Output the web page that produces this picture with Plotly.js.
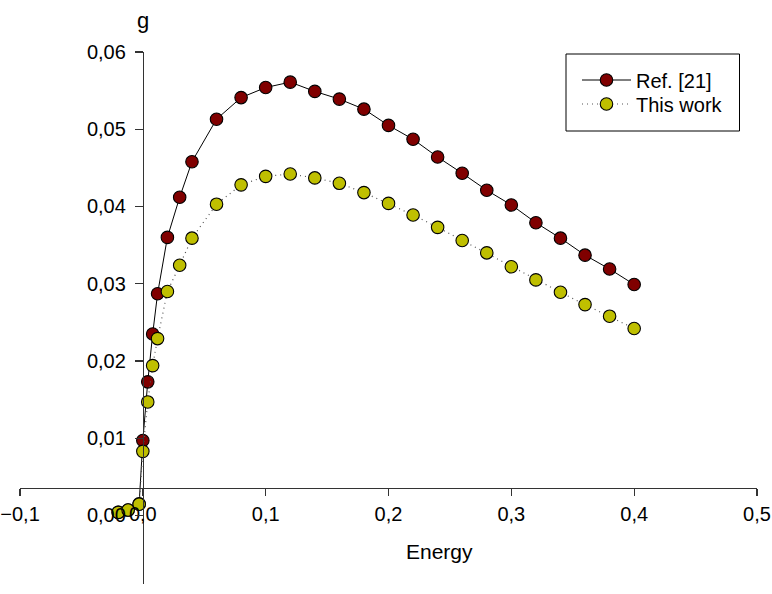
<!DOCTYPE html>
<html>
<head>
<meta charset="utf-8">
<script src="https://cdn.plot.ly/plotly-3.0.1.min.js"></script>
<style>
  html, body { margin: 0; padding: 0; background: #ffffff; }
  #chart { width: 772px; height: 594px; }
</style>
</head>
<body>
<div id="chart"></div>
<script>
// ---- Data ----
var energy = [-0.02, -0.012, -0.003, 0, 0.004, 0.008, 0.012, 0.02, 0.03, 0.04, 0.06, 0.08, 0.10, 0.12, 0.14, 0.16, 0.18, 0.20, 0.22, 0.24, 0.26, 0.28, 0.30, 0.32, 0.34, 0.36, 0.38, 0.40];
var ref21 = [0.0004, 0.0007, 0.0015, 0.0097, 0.0173, 0.0235, 0.0287, 0.0360, 0.0412, 0.0458, 0.0513, 0.0541, 0.0554, 0.0561, 0.0549, 0.0539, 0.0526, 0.0505, 0.0487, 0.0464, 0.0443, 0.0421, 0.0402, 0.0379, 0.0359, 0.0337, 0.0319, 0.0299];
var thisWork = [0.0004, 0.0007, 0.00145, 0.0083, 0.0147, 0.0194, 0.0229, 0.0290, 0.0324, 0.0359, 0.0403, 0.0428, 0.0439, 0.0442, 0.0437, 0.0430, 0.0418, 0.0404, 0.0389, 0.0373, 0.0356, 0.0340, 0.0322, 0.0305, 0.0289, 0.0273, 0.0258, 0.0242];
var seriesNames = ["Ref. [21]", "This work"];
var xTickVals = [-0.1, 0, 0.1, 0.2, 0.3, 0.4, 0.5];
var yTickVals = [0, 0.01, 0.02, 0.03, 0.04, 0.05, 0.06];

// ---- Layout geometry ----
var W = 772, H = 594;
var mL = 20, mR = 15, mT = 52, mB = 10;
var xRange = [-0.1, 0.5];
var yRange = [-0.00887, 0.06];
var xAxisAtY = 0.00356;   // where the energy axis crosses the g axis
var yAxisAtX = 0;         // where the g axis crosses the energy axis
var plotW = W - mL - mR, plotH = H - mT - mB;
function px2paperX(px) { return (px - mL) / plotW; }
function px2paperY(py) { return (H - mB - py) / plotH; }

var font = "Arial, 'Liberation Sans', Helvetica, sans-serif";

var traces = [
  {
    x: energy, y: ref21, name: seriesNames[0], legend: "legend",
    type: "scatter", mode: "lines+markers",
    line: { color: "#000000", width: 1 },
    marker: { size: 12.5, color: "#800000", line: { color: "#000000", width: 1.1 } },
    cliponaxis: false
  },
  {
    x: energy, y: thisWork, name: seriesNames[1], legend: "legend2",
    type: "scatter", mode: "lines+markers",
    line: { color: "#555555", width: 1.2, dash: "1px,4px" },
    marker: { size: 12.5, color: "#bfbf00", line: { color: "#000000", width: 1.1 } },
    cliponaxis: false
  }
];

function legendAt(cx, cy) {
  return {
    x: px2paperX(cx), y: px2paperY(cy),
    xanchor: "left", yanchor: "middle",
    bgcolor: "rgba(0,0,0,0)",
    borderwidth: 0,
    font: { family: font, size: 20, color: "#000000" },
    itemwidth: 49
  };
}

var layout = {
  width: W, height: H,
  margin: { l: mL, r: mR, t: mT, b: mB, pad: 0 },
  paper_bgcolor: "#ffffff",
  plot_bgcolor: "rgba(0,0,0,0)",
  separators: ",.",
  font: { family: font, size: 20, color: "#000000" },
  showlegend: true,
  xaxis: {
    range: xRange,
    anchor: "free",
    position: (xAxisAtY - yRange[0]) / (yRange[1] - yRange[0]),
    tickvals: xTickVals,
    tickformat: ".1f",
    showgrid: false, zeroline: false,
    showline: true, linecolor: "#333333", linewidth: 1.5,
    ticks: "outside", ticklen: 7, tickwidth: 1.3, tickcolor: "#333333",
    tickfont: { family: font, size: 20, color: "#000000" },
    ticklabelstandoff: 1,
    fixedrange: true
  },
  yaxis: {
    range: yRange,
    anchor: "free",
    position: (yAxisAtX - xRange[0]) / (xRange[1] - xRange[0]),
    tickvals: yTickVals,
    tickformat: ".2f",
    showgrid: false, zeroline: false,
    showline: true, linecolor: "#333333", linewidth: 1.5,
    ticks: "outside", ticklen: 8, tickwidth: 1.3, tickcolor: "#333333",
    tickfont: { family: font, size: 20, color: "#000000" },
    ticklabelstandoff: 5,
    fixedrange: true
  },
  legend: legendAt(577, 80),
  legend2: legendAt(577, 104),
  shapes: [
    {
      type: "rect", xref: "paper", yref: "paper",
      x0: px2paperX(566), x1: px2paperX(739.5),
      y0: px2paperY(131), y1: px2paperY(54),
      line: { color: "#000000", width: 1 },
      fillcolor: "rgba(0,0,0,0)",
      layer: "below"
    }
  ],
  annotations: [
    {
      text: "g", xref: "x", x: 0, yref: "paper", y: px2paperY(20),
      xanchor: "center", yanchor: "middle", showarrow: false,
      font: { family: font, size: 22, color: "#000000" }
    },
    {
      text: "Energy", xref: "paper", x: px2paperX(439), yref: "paper", y: px2paperY(551),
      xanchor: "center", yanchor: "middle", showarrow: false,
      font: { family: font, size: 21, color: "#000000" }
    }
  ]
};

Plotly.newPlot("chart", traces, layout, { staticPlot: true, displayModeBar: false });
</script>
</body>
</html>
